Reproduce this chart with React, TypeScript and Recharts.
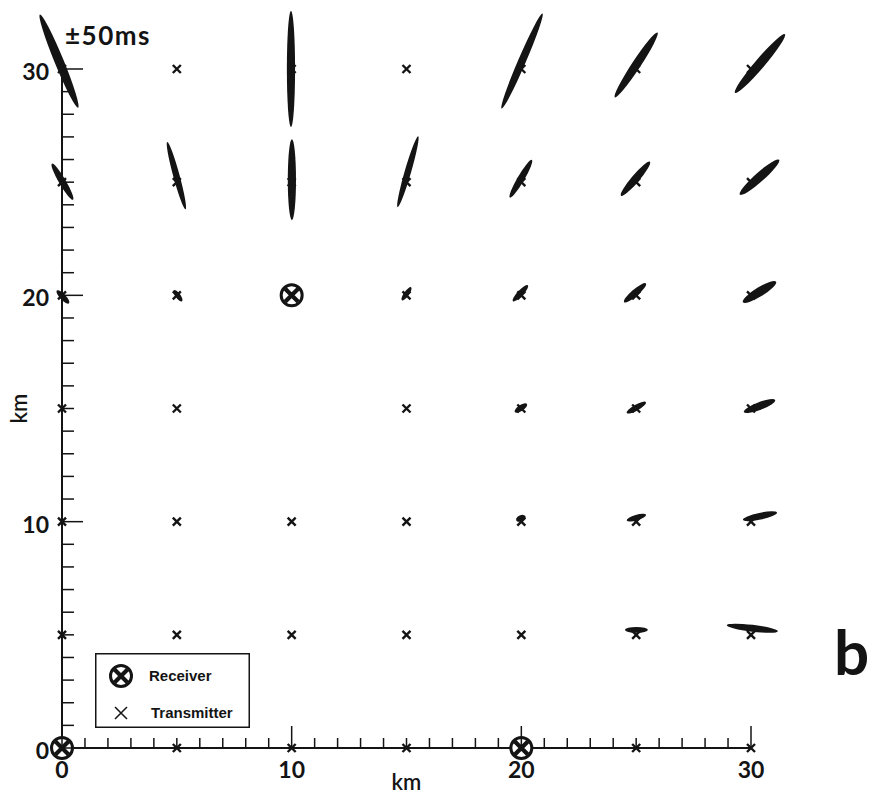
import React from 'react'
import { Legend, Scatter, ScatterChart, XAxis, YAxis, usePlotArea } from 'recharts'

// axis ticks (km)
const kmTicks = [0, 1, 2, 3, 4, 5, 6, 7, 8, 9, 10, 11, 12, 13, 14, 15, 16, 17, 18, 19, 20, 21, 22, 23, 24, 25, 26, 27, 28, 29, 30]
const labelledKm = [0, 10, 20, 30]
const kmDomain: [number, number] = [0, 30]
const legendNames = ['Receiver', 'Transmitter']

const receivers = [
    { x: 0, y: 0 },
    { x: 10, y: 20 },
    { x: 20, y: 0 },
]

// transmitter grid, (10,15) is empty in the figure
const transmitters = [
    { x: 5, y: 0 }, { x: 10, y: 0 }, { x: 15, y: 0 }, { x: 25, y: 0 }, { x: 30, y: 0 },
    { x: 0, y: 5 }, { x: 5, y: 5 }, { x: 10, y: 5 }, { x: 15, y: 5 }, { x: 20, y: 5 }, { x: 25, y: 5 }, { x: 30, y: 5 },
    { x: 0, y: 10 }, { x: 5, y: 10 }, { x: 10, y: 10 }, { x: 15, y: 10 }, { x: 20, y: 10 }, { x: 25, y: 10 }, { x: 30, y: 10 },
    { x: 0, y: 15 }, { x: 5, y: 15 }, { x: 15, y: 15 }, { x: 20, y: 15 }, { x: 25, y: 15 }, { x: 30, y: 15 },
    { x: 0, y: 20 }, { x: 5, y: 20 }, { x: 15, y: 20 }, { x: 20, y: 20 }, { x: 25, y: 20 }, { x: 30, y: 20 },
    { x: 0, y: 25 }, { x: 5, y: 25 }, { x: 10, y: 25 }, { x: 15, y: 25 }, { x: 20, y: 25 }, { x: 25, y: 25 }, { x: 30, y: 25 },
    { x: 0, y: 30 }, { x: 5, y: 30 }, { x: 10, y: 30 }, { x: 15, y: 30 }, { x: 20, y: 30 }, { x: 25, y: 30 }, { x: 30, y: 30 },
]

// error ellipses (±50ms): grid point, centre offset dx/dy (km), semi axes a/b (km), angle (deg)
const ellipses = [
    { x: 0, y: 30, dx: -0.13, dy: 0.35, a: 2.22, b: 0.2, angle: 112 },
    { x: 10, y: 30, dx: -0.03, dy: 0, a: 2.56, b: 0.18, angle: 90 },
    { x: 20, y: 30, dx: 0.03, dy: 0.35, a: 2.28, b: 0.17, angle: 67 },
    { x: 25, y: 30, dx: 0, dy: 0.18, a: 1.71, b: 0.19, angle: 57 },
    { x: 30, y: 30, dx: 0.39, dy: 0.24, a: 1.69, b: 0.21, angle: 50 },

    { x: 0, y: 25, dx: 0.02, dy: 0.02, a: 0.92, b: 0.15, angle: 120 },
    { x: 5, y: 25, dx: -0.02, dy: 0.29, a: 1.54, b: 0.14, angle: 105 },
    { x: 10, y: 25, dx: 0.01, dy: 0.11, a: 1.79, b: 0.18, angle: 90 },
    { x: 15, y: 25, dx: 0.06, dy: 0.46, a: 1.63, b: 0.14, angle: 74 },
    { x: 20, y: 25, dx: -0.02, dy: 0.15, a: 0.96, b: 0.15, angle: 60 },
    { x: 25, y: 25, dx: -0.03, dy: 0.15, a: 0.98, b: 0.17, angle: 50 },
    { x: 30, y: 25, dx: 0.37, dy: 0.22, a: 1.15, b: 0.2, angle: 42 },

    { x: 0, y: 20, dx: 0.04, dy: -0.07, a: 0.39, b: 0.13, angle: 133 },
    { x: 5, y: 20, dx: 0.05, dy: -0.02, a: 0.3, b: 0.11, angle: 126 },
    { x: 15, y: 20, dx: 0, dy: 0.07, a: 0.35, b: 0.11, angle: 55 },
    { x: 20, y: 20, dx: -0.04, dy: 0.09, a: 0.48, b: 0.13, angle: 47 },
    { x: 25, y: 20, dx: -0.05, dy: 0.11, a: 0.63, b: 0.15, angle: 41 },
    { x: 30, y: 20, dx: 0.37, dy: 0.15, a: 0.85, b: 0.2, angle: 32 },

    { x: 20, y: 15, dx: -0.02, dy: 0.02, a: 0.32, b: 0.13, angle: 34 },
    { x: 25, y: 15, dx: 0.01, dy: 0.04, a: 0.48, b: 0.13, angle: 30 },
    { x: 30, y: 15, dx: 0.37, dy: 0.11, a: 0.73, b: 0.17, angle: 21 },

    { x: 20, y: 10, dx: -0.02, dy: 0.15, a: 0.22, b: 0.13, angle: 25 },
    { x: 25, y: 10, dx: 0.01, dy: 0.18, a: 0.44, b: 0.12, angle: 17 },
    { x: 30, y: 10, dx: 0.39, dy: 0.24, a: 0.76, b: 0.15, angle: 12 },

    { x: 25, y: 5, dx: 0.01, dy: 0.22, a: 0.5, b: 0.13, angle: 0 },
    { x: 30, y: 5, dx: 0.06, dy: 0.29, a: 1.12, b: 0.15, angle: -7 },
]

const INK = '#141414'
const NUM_FONT = 'Lato, "DejaVu Sans", sans-serif'

const XTick = (props: any) => {
    const { x, y, payload } = props
    const major = labelledKm.includes(payload.value)
    return (
        <g>
            <line x1={x} x2={x} y1={y} y2={y - (major ? 22 : 10)} stroke={INK} strokeWidth={1.5} />
            {major && (
                <text x={x} y={y + 30} textAnchor="middle" fontFamily={NUM_FONT} fontWeight={700} fontSize={23} fill={INK}>
                    {payload.value}
                </text>
            )}
        </g>
    )
}

const YTick = (props: any) => {
    const { x, y, payload } = props
    const major = labelledKm.includes(payload.value)
    return (
        <g>
            <line x1={x} x2={x + (major ? 21 : 12)} y1={y} y2={y} stroke={INK} strokeWidth={1.5} />
            {major && (
                <text x={x - 13} y={y + 11} textAnchor="end" fontFamily={NUM_FONT} fontWeight={700} fontSize={23} fill={INK}>
                    {payload.value}
                </text>
            )}
        </g>
    )
}

// px per km from the plot area
const useKmScale = () => {
    const area = usePlotArea()
    const span = kmDomain[1] - kmDomain[0]
    if (!area) return { sx: 22.97, sy: 22.7 }
    return { sx: area.width / span, sy: area.height / span }
}

const EllipseMark = (props: any) => {
    const { cx, cy, payload } = props
    const { sx, sy } = useKmScale()
    if (cx == null || cy == null) return null
    const t = (payload.angle * Math.PI) / 180
    const ax = payload.a * Math.cos(t) * sx
    const ay = -payload.a * Math.sin(t) * sy
    const rot = (Math.atan2(ay, ax) * 180) / Math.PI
    const ex = cx + payload.dx * sx
    const ey = cy - payload.dy * sy
    return (
        <ellipse
            cx={ex}
            cy={ey}
            rx={Math.hypot(ax, ay)}
            ry={payload.b * (sx + sy) / 2}
            transform={`rotate(${rot} ${ex} ${ey})`}
            fill={INK}
        />
    )
}

const CrossMark = ({ cx, cy, r = 4, w = 2.4 }: any) => (
    <path d={`M${cx - r},${cy - r}L${cx + r},${cy + r}M${cx - r},${cy + r}L${cx + r},${cy - r}`} stroke={INK} strokeWidth={w} fill="none" />
)

const ReceiverMark = ({ cx, cy }: any) => (
    <g>
        <circle cx={cx} cy={cy} r={10.5} fill="#fff" stroke={INK} strokeWidth={3} />
        <path
            d={`M${cx - 6.5},${cy - 6.5}L${cx + 6.5},${cy + 6.5}M${cx - 6.5},${cy + 6.5}L${cx + 6.5},${cy - 6.5}`}
            stroke={INK}
            strokeWidth={4.2}
        />
    </g>
)

const LegendBox = ({ payload }: any) => {
    const items = (payload || [])
        .map((p: any) => p.value)
        .filter((v: string) => legendNames.includes(v))
        .sort((a: string, b: string) => legendNames.indexOf(a) - legendNames.indexOf(b))
    return (
        <svg width={155} height={75} style={{ display: 'block' }}>
            <rect x={0.75} y={0.75} width={153.5} height={73.5} fill="#fff" stroke={INK} strokeWidth={1.5} />
            {items.map((name: string, i: number) => {
                const cy = i === 0 ? 23 : 60
                return (
                    <g key={name}>
                        {name === 'Receiver' ? <ReceiverMark cx={26} cy={cy} /> : <CrossMark cx={26} cy={cy} r={6} w={1.5} />}
                        <text x={name === 'Receiver' ? 54 : 56} y={cy + 5} fontFamily='"Liberation Sans", Arial, sans-serif' fontWeight={700} fontSize={15} fill={INK}>
                            {name}
                        </text>
                    </g>
                )
            })}
        </svg>
    )
}

export default function App() {
    return (
        <div style={{ position: 'absolute', left: 0, top: 0, width: 872, height: 795, background: '#fff' }}>
            <ScatterChart width={872} height={795} margin={{ top: 69, right: 121, bottom: 0, left: 0 }}>
                <XAxis
                    dataKey="x"
                    type="number"
                    domain={kmDomain}
                    ticks={kmTicks}
                    interval={0}
                    height={47}
                    tickSize={0}
                    tickMargin={0}
                    tickLine={false}
                    tick={<XTick />}
                    axisLine={{ stroke: INK, strokeWidth: 2 }}
                    label={{ value: 'km', position: 'insideBottom', offset: 5, fill: INK, fontSize: 22, fontFamily: NUM_FONT, fontWeight: 600 }}
                />
                <YAxis
                    dataKey="y"
                    type="number"
                    domain={kmDomain}
                    ticks={kmTicks}
                    interval={0}
                    width={62}
                    tickSize={0}
                    tickMargin={0}
                    tickLine={false}
                    tick={<YTick />}
                    axisLine={{ stroke: INK, strokeWidth: 2 }}
                    label={{ value: 'km', angle: -90, position: 'insideLeft', offset: 19, fill: INK, fontSize: 22, fontFamily: NUM_FONT, fontWeight: 600, style: { textAnchor: 'middle' } }}
                />
                <Legend
                    layout="vertical"
                    align="center"
                    verticalAlign="middle"
                    content={<LegendBox />}
                    wrapperStyle={{ left: 95, top: 653, width: 155, height: 75 }}
                />
                <Scatter name="ellipses" data={ellipses} legendType="none" isAnimationActive={false} shape={(p: any) => <EllipseMark {...p} />} />
                <Scatter name="Transmitter" data={transmitters} isAnimationActive={false} shape={(p: any) => <CrossMark cx={p.cx} cy={p.cy} />} />
                <Scatter name="Receiver" data={receivers} isAnimationActive={false} shape={(p: any) => <ReceiverMark cx={p.cx} cy={p.cy} />} />
            </ScatterChart>
            <svg width={872} height={795} style={{ position: 'absolute', left: 0, top: 0, pointerEvents: 'none' }}>
                <text x={65} y={45} fontFamily={NUM_FONT} fontWeight={700} fontSize={26} letterSpacing={1.5} fill={INK}>±50ms</text>
                <text x={834} y={675} fontFamily={NUM_FONT} fontWeight={700} fontSize={62} fill={INK}>b</text>
            </svg>
        </div>
    )
}
